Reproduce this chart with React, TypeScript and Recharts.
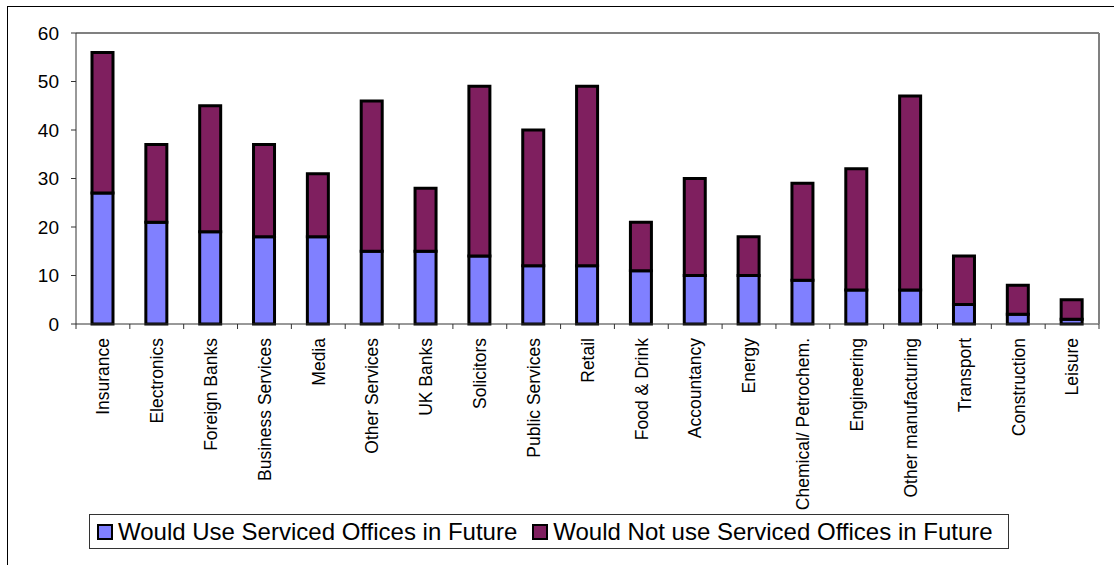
import { BarChart, Bar, XAxis, YAxis, ReferenceLine } from "recharts"

const categories = [
  "Insurance", "Electronics", "Foreign Banks", "Business Services", "Media",
  "Other Services", "UK Banks", "Solicitors", "Public Services", "Retail",
  "Food & Drink", "Accountancy", "Energy", "Chemical/ Petrochem.", "Engineering",
  "Other manufacturing", "Transport", "Construction", "Leisure"
]
const wouldUse = [27, 21, 19, 18, 18, 15, 15, 14, 12, 12, 11, 10, 10, 9, 7, 7, 4, 2, 1]
const wouldNotUse = [29, 16, 26, 19, 13, 31, 13, 35, 28, 37, 10, 20, 8, 20, 25, 40, 10, 6, 4]
const yTicks = [0, 10, 20, 30, 40, 50, 60]
const seriesNames = ["Would Use Serviced Offices in Future", "Would Not use Serviced Offices in Future"]
const seriesColors = ["#8080FF", "#7F1F5F"]

const data = categories.map((name, i) => ({ name, use: wouldUse[i], notUse: wouldNotUse[i] }))

const FONT = '"Liberation Sans", Arial, sans-serif'
const AXIS = "#333"
const TICK_GAP = 14

function CategoryTick(props: any) {
  const { x, y, payload, index } = props
  const half = payload?.offset ?? 26.92
  const axisY = y - TICK_GAP
  return (
    <g>
      <line x1={x - half} y1={axisY} x2={x - half} y2={axisY + 5} stroke={AXIS} strokeWidth={1} />
      {index === categories.length - 1 && (
        <line x1={x + half} y1={axisY} x2={x + half} y2={axisY + 5} stroke={AXIS} strokeWidth={1} />
      )}
      <text
        transform={`translate(${x},${y}) rotate(-90)`}
        textAnchor="end"
        dy="0.36em"
        fontSize={17.5}
        fontFamily={FONT}
        fill="#000"
      >
        {payload.value}
      </text>
    </g>
  )
}

export default function App() {
  return (
    <div style={{ position: "relative", width: 1114, height: 565, overflow: "hidden", background: "#fff", fontFamily: FONT }}>
      <style>{`body{margin:0}`}</style>
      {/* outer chart frame */}
      <div style={{ position: "absolute", left: 7, top: 6, width: 1300, height: 800, border: "1px solid #000" }} />

      <div style={{ position: "absolute", left: 0, top: 0 }}>
        <BarChart width={1114} height={565} data={data} margin={{ top: 33, right: 14, left: 0, bottom: 0 }}>
          <XAxis
            dataKey="name"
            height={241}
            interval={0}
            tickLine={false}
            tickSize={0}
            tickMargin={TICK_GAP}
            axisLine={{ stroke: AXIS }}
            tick={<CategoryTick />}
          />
          <YAxis
            width={76}
            domain={[0, 60]}
            ticks={yTicks}
            tickSize={5}
            tickMargin={12}
            axisLine={{ stroke: AXIS }}
            tickLine={{ stroke: AXIS }}
            tick={{ fill: "#000", fontSize: 19, fontFamily: FONT }}
          />
          <YAxis
            yAxisId="r"
            orientation="right"
            width={1}
            domain={[0, 60]}
            tick={false}
            tickLine={false}
            axisLine={{ stroke: "#808080", strokeWidth: 2 }}
          />
          <ReferenceLine y={60} stroke="#808080" strokeWidth={2} />
          <Bar dataKey="use" name={seriesNames[0]} stackId="a" fill={seriesColors[0]} stroke="#000" strokeWidth={3} barSize={21} isAnimationActive={false} />
          <Bar dataKey="notUse" name={seriesNames[1]} stackId="a" fill={seriesColors[1]} stroke="#000" strokeWidth={3} barSize={21} isAnimationActive={false} />
        </BarChart>
      </div>

      {/* legend */}
      <div style={{
        position: "absolute", left: 89, top: 514, width: 920, height: 35,
        border: "1px solid #333", display: "flex", alignItems: "center",
        paddingLeft: 7, boxSizing: "border-box"
      }}>
        {seriesNames.map((n, i) => (
          <div key={n} style={{ display: "flex", alignItems: "center", marginRight: 15 }}>
            <span style={{
              width: 12, height: 12, background: seriesColors[i],
              border: "2px solid #000", display: "inline-block", marginRight: 5
            }} />
            <span style={{ fontSize: 24, color: "#000", whiteSpace: "nowrap" }}>{n}</span>
          </div>
        ))}
      </div>
    </div>
  )
}
